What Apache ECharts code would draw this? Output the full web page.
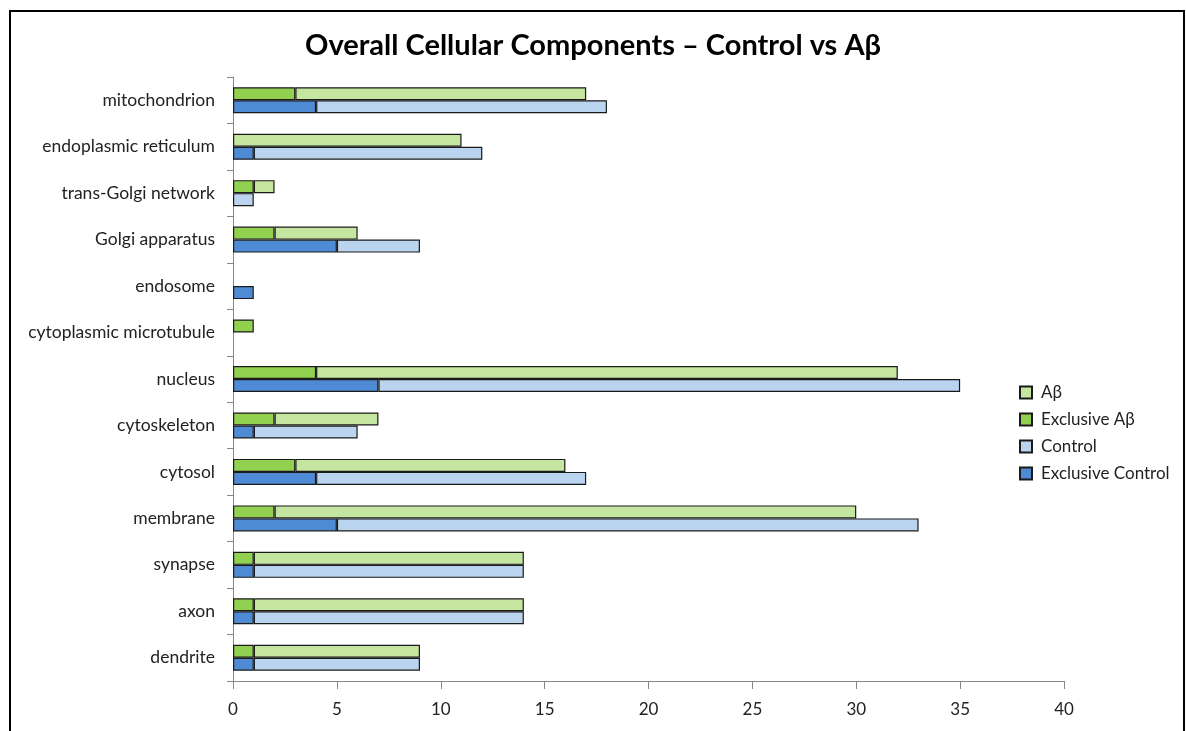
<!DOCTYPE html>
<html>
<head>
<meta charset="utf-8">
<script src="https://cdn.jsdelivr.net/npm/echarts@6/dist/echarts.min.js"></script>
<style>
html,body{margin:0;padding:0;background:#fff;}
#chart{width:1186px;height:731px;}
</style>
</head>
<body>
<div id="chart"></div>
<script>
// Categories bottom -> top
const categories = ['dendrite','axon','synapse','membrane','cytosol','cytoskeleton','nucleus','cytoplasmic microtubule','endosome','Golgi apparatus','trans-Golgi network','endoplasmic reticulum','mitochondrion'];
const abTotal      = [9, 14, 14, 30, 16, 7, 32, 1, 0, 6, 2, 11, 17];
const abExclusive  = [1, 1, 1, 2, 3, 2, 4, 1, 0, 2, 1, 0, 3];
const ctrlTotal    = [9, 14, 14, 33, 17, 6, 35, 0, 1, 9, 1, 12, 18];
const ctrlExclusive= [1, 1, 1, 5, 4, 1, 7, 0, 1, 5, 0, 1, 4];
const xTicks = [0, 5, 10, 15, 20, 25, 30, 35, 40];

const nz = a => a.map(v => (v === 0 ? null : v));
const rest = (t, e) => nz(t.map((v, i) => v - e[i]));
const border = { borderColor: '#1a1a1a', borderWidth: 1.2 };
const FONT = 'Lato, "Open Sans", sans-serif';

const chart = echarts.init(document.getElementById('chart'));
chart.setOption({
  animation: false,
  backgroundColor: '#fff',
  textStyle: { fontFamily: FONT },
  title: {
    text: 'Overall Cellular Components \u2013 Control vs A\u03b2',
    left: 'center', top: 26,
    textStyle: { fontSize: 29, fontWeight: 'bold', color: '#000', fontFamily: FONT }
  },
  graphic: [{
    type: 'rect', shape: { x: 10, y: 11, width: 1174, height: 740 },
    style: { fill: 'none', stroke: '#000', lineWidth: 2 }, silent: true
  }],
  legend: {
    orient: 'vertical', left: 1014, top: 379,
    icon: 'rect',
    itemWidth: 12, itemHeight: 12, itemGap: 10,
    data: ['A\u03b2', 'Exclusive A\u03b2', 'Control', 'Exclusive Control'],
    textStyle: { fontSize: 17, color: '#222', fontFamily: FONT, padding: [0, 0, 0, 4] }
  },
  grid: { left: 233, right: 122, top: 77, bottom: 50 },
  xAxis: {
    type: 'value', min: 0, max: 40, interval: 5,
    splitLine: { show: false },
    axisLine: { show: true, lineStyle: { color: '#888', width: 1 } },
    axisTick: { show: true, length: 8, lineStyle: { color: '#888' } },
    axisLabel: { fontSize: 17, color: '#222', margin: 20,
      formatter: v => xTicks.includes(v) ? String(v) : '' }
  },
  yAxis: {
    type: 'category', data: categories,
    axisLine: { show: true, lineStyle: { color: '#888', width: 1 } },
    axisTick: { show: true, length: 6, lineStyle: { color: '#888' } },
    axisLabel: { fontSize: 17.5, color: '#222', margin: 18 }
  },
  series: [
    { name: 'Exclusive A\u03b2', type: 'bar', stack: 'ab', barWidth: 13, barGap: '0%',
      data: nz(abExclusive), itemStyle: Object.assign({ color: '#92D050' }, border) },
    { name: 'A\u03b2', type: 'bar', stack: 'ab', barWidth: 13, barGap: '0%',
      data: rest(abTotal, abExclusive), itemStyle: Object.assign({ color: '#C4E6A0' }, border) },
    { name: 'Exclusive Control', type: 'bar', stack: 'ctrl', barWidth: 13, barGap: '0%',
      data: nz(ctrlExclusive), itemStyle: Object.assign({ color: '#4F8BD5' }, border) },
    { name: 'Control', type: 'bar', stack: 'ctrl', barWidth: 13, barGap: '0%',
      data: rest(ctrlTotal, ctrlExclusive), itemStyle: Object.assign({ color: '#BAD3EF' }, border) }
  ]
});
</script>
</body>
</html>
